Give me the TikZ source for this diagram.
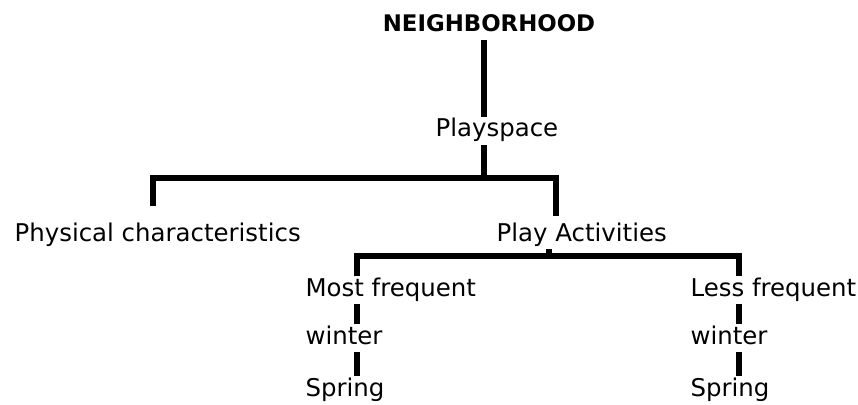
\documentclass[tikz,border=0pt]{standalone}
\usepackage{fontspec}
\setmainfont{DejaVu Sans}
\begin{document}
\begin{tikzpicture}[x=0.02cm,y=-0.02cm,
    label/.style={anchor=base west,inner sep=0pt,outer sep=1.5pt,
      font=\fontsize{13.9}{16}\selectfont,text height=10pt,text depth=3.3pt},
    tree/.style={line width=3.2pt}]
  \useasboundingbox (0,0) rectangle (858,405);
  % top of the tree
  \node[label,anchor=base,font=\bfseries\fontsize{13}{15}\selectfont] (hood) at (489,32) {NEIGHBORHOOD};
  \node[label] (play) at (433,137) {Playspace};
  \node[label] (phys) at (12,241) {Physical characteristics};
  \node[label] (acts) at (494,241) {Play Activities};
  \coordinate (j1) at (484,178);
  \coordinate (b1l) at (153,178);
  \coordinate (b1r) at (556,178);
  \coordinate (j2) at (549,256);
  \coordinate (b2l) at (357,256);
  \coordinate (b2r) at (739,256);
  \draw[tree] (hood.south -| j1) -- (play.north -| j1);
  \draw[tree] (play.south -| j1) -- (j1);
  \draw[tree,shorten <=0.3cm,shorten >=0.1cm] (phys.north -| b1l) -- (b1l) -- (b1r) -- (acts.north -| b1r);
  \draw[tree] (acts.south -| j2) -- (j2);
  % the two columns
  \foreach \c/\x/\lbl/\side in {a/303/Most/b2l, b/688/Less/b2r} {
    \node[label] (freq\c) at (\x,296) {\lbl\ frequent};
    \node[label] (win\c) at (\x,344) {winter};
    \node[label] (spr\c) at (\x,396) {Spring};
    \draw[tree] (freq\c.south -| \side) -- (win\c.north -| \side);
    \draw[tree] (win\c.south -| \side) -- (spr\c.north -| \side);
  }
  \draw[tree] (freqa.north -| b2l) -- (b2l) -- (b2r) -- (freqb.north -| b2r);
\end{tikzpicture}
\end{document}
